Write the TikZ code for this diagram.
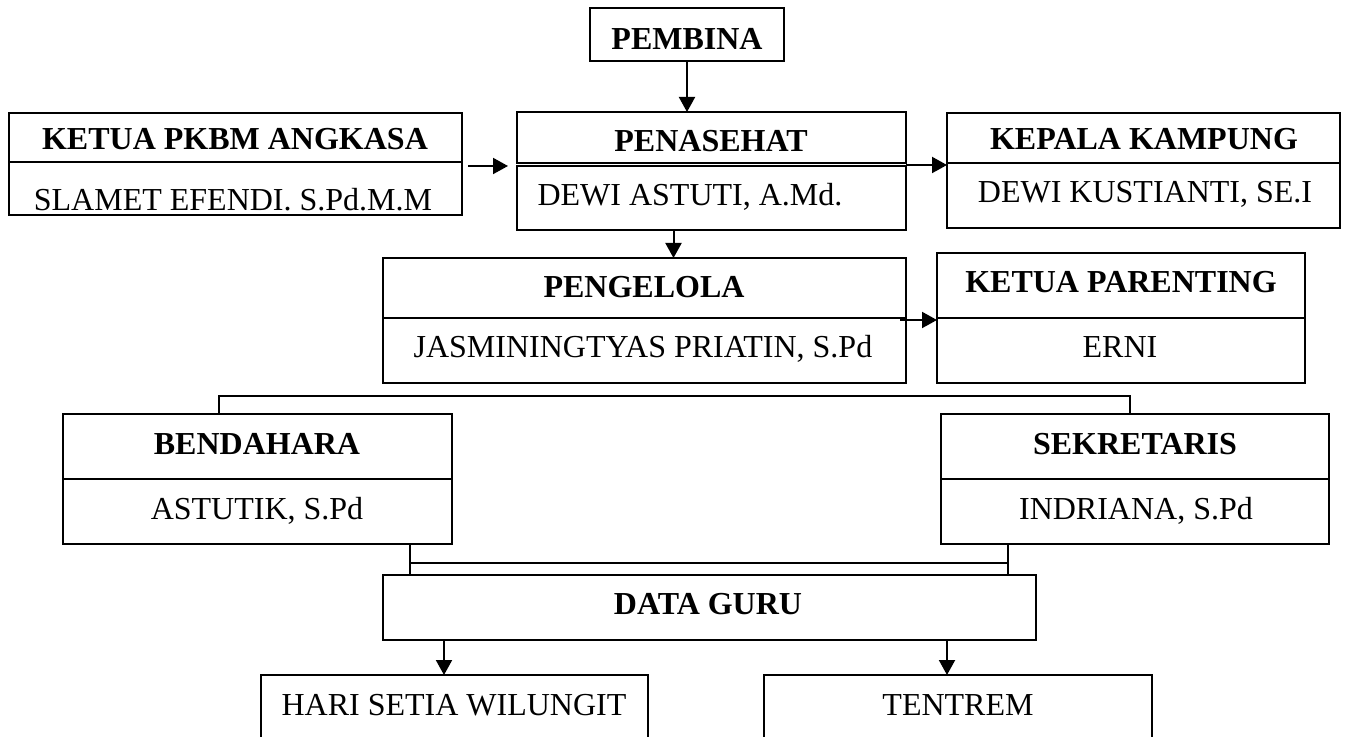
\documentclass[tikz,border=0pt]{standalone}
\usepackage{fontspec}
\setmainfont{Liberation Serif}
\usetikzlibrary{arrows.meta}
\tikzset{
  box/.style={draw, line width=1.1pt, inner sep=0pt, outer sep=0pt, rectangle},
  lbl/.style={anchor=base, inner sep=0pt, font=\fontsize{16}{19}\selectfont},
  hd/.style={lbl, font=\fontsize{16}{19}\selectfont\bfseries},
  arr/.style={line width=1pt, -{Triangle[length=7.5pt,width=8pt]}},
  conn/.style={line width=0.75pt}
}
\newcommand\boxat[5]{\node[box, minimum width={(#4-#2)*0.5pt}, minimum height={(#5-#3)*0.5pt}] (#1) at ({(#2+#4)/2},{(#3+#5)/2}) {};}
\begin{document}
\begin{tikzpicture}[x=0.5pt,y=-0.5pt]
\useasboundingbox (0,0) rectangle (1350,737);
\clip (0,0) rectangle (1350,737);
% boxes
\boxat{pembina}{590}{8}{784}{61}
\boxat{kethd}{9}{113}{462}{162}
\boxat{ketnm}{9}{162}{462}{215}
\boxat{penhd}{517}{112}{906}{163}
\boxat{pennm}{517}{166}{906}{230}
\boxat{kephd}{947}{113}{1340}{163}
\boxat{kepnm}{947}{163}{1340}{228}
\boxat{pglhd}{383}{258}{906}{318}
\boxat{pglnm}{383}{318}{906}{383}
\boxat{parhd}{937}{253}{1305}{318}
\boxat{parnm}{937}{318}{1305}{383}
\boxat{benhd}{63}{414}{452}{479}
\boxat{bennm}{63}{479}{452}{544}
\boxat{sekhd}{941}{414}{1329}{479}
\boxat{seknm}{941}{479}{1329}{544}
\boxat{guru}{383}{575}{1036}{640}
\boxat{hari}{261}{675}{648}{760}
\boxat{tent}{764}{675}{1152}{760}
% texts
\node[hd] (t-pembina) at (687,50) {PEMBINA};
\node[hd] (t-kethd) at (235,150) {KETUA PKBM ANGKASA};
\node[lbl] (t-ketnm) at (233,211) {SLAMET EFENDI. S.Pd.M.M};
\node[hd] (t-penhd) at (711,152) {PENASEHAT};
\node[lbl] (t-pennm) at (690,206) {DEWI ASTUTI, A.Md.};
\node[hd] (t-kephd) at (1144,150) {KEPALA KAMPUNG};
\node[lbl] (t-kepnm) at (1145,203) {DEWI KUSTIANTI, SE.I};
\node[hd] (t-pglhd) at (644,298) {PENGELOLA};
\node[lbl] (t-pglnm) at (643,358) {JASMININGTYAS PRIATIN, S.Pd};
\node[hd] (t-parhd) at (1121,293) {KETUA PARENTING};
\node[lbl] (t-parnm) at (1120,358) {ERNI};
\node[hd] (t-benhd) at (257,455) {BENDAHARA};
\node[lbl] (t-bennm) at (257,520) {ASTUTIK, S.Pd};
\node[hd] (t-sekhd) at (1135,455) {SEKRETARIS};
\node[lbl] (t-seknm) at (1136,520) {INDRIANA, S.Pd};
\node[hd] (t-guru) at (708,615) {DATA GURU};
\node[lbl] (t-hari) at (454,715) {HARI SETIA WILUNGIT};
\node[lbl] (t-tent) at (958,715) {TENTREM};
% connectors
\draw[arr] (pembina.south) -- (pembina.south |- penhd.north);
\draw[arr] ([shift={(6,4)}]ketnm.north east) -- ([shift={(-9,0)}]pennm.north west);
\draw[arr] ([shift={(0,2)}]penhd.south east) -- ([shift={(0,2)}]kephd.south west);
\coordinate (c1) at ([shift={(-38,0)}]pennm.south);
\draw[arr] (c1) -- (c1 |- pglhd.north);
\draw[arr] ([shift={(-6,2)}]pglhd.south east) -- ([shift={(0,2)}]parhd.south west);
\draw[conn] ([shift={(156,0)}]benhd.north west) -- ++(0,-18) -| ([shift={(-199,0)}]sekhd.north east);
\coordinate (c2) at ([shift={(-42,0)}]bennm.south east);
\coordinate (c3) at ([shift={(-321,0)}]seknm.south east);
\draw[conn] (c2) -- (c2 |- guru.north);
\draw[conn] (c3) -- (c3 |- guru.north);
\draw[conn] ([shift={(0,19)}]c2) -- ([shift={(0,19)}]c3);
\coordinate (c4) at ([shift={(61,0)}]guru.south west);
\coordinate (c5) at ([shift={(-89,0)}]guru.south east);
\draw[arr] (c4) -- (c4 |- hari.north);
\draw[arr] (c5) -- (c5 |- tent.north);
\end{tikzpicture}
\end{document}
